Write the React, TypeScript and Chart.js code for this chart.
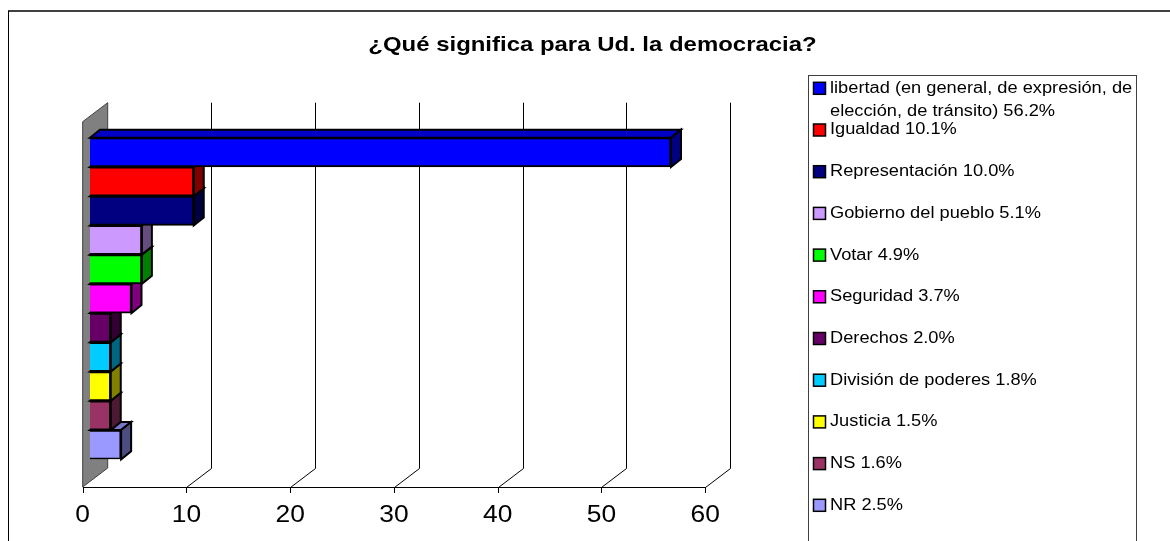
import React, { useEffect, useRef } from "react";
import { Chart, registerables } from "chart.js";

Chart.register(...registerables);

const titleText = "¿Qué significa para Ud. la democracia?";
const categories = [
  "libertad (en general, de expresión, de elección, de tránsito)",
  "Igualdad",
  "Representación",
  "Gobierno del pueblo",
  "Votar",
  "Seguridad",
  "Derechos",
  "División de poderes",
  "Justicia",
  "NS",
  "NR",
];
const percentLabels = ["56.2", "10.1", "10.0", "5.1", "4.9", "3.7", "2.0", "1.8", "1.5", "1.6", "2.5"];
const barValues = [56, 10, 10, 5, 5, 4, 2, 2, 2, 2, 3];
const xTicks = [0, 10, 20, 30, 40, 50, 60];
const colors = [
  "#0000FF",
  "#FF0000",
  "#000080",
  "#CC99FF",
  "#00FF00",
  "#FF00FF",
  "#660066",
  "#00CCFF",
  "#FFFF00",
  "#993366",
  "#9999FF",
];

const FONT = '"Liberation Sans", Arial, sans-serif';
const STRETCH = 1.14;

function shade(hex: string, f: number): string {
  const n = parseInt(hex.slice(1), 16);
  const r = Math.round(((n >> 16) & 255) * f);
  const g = Math.round(((n >> 8) & 255) * f);
  const b = Math.round((n & 255) * f);
  return `rgb(${r},${g},${b})`;
}

function stretchedText(ctx: CanvasRenderingContext2D, text: string, x: number, y: number, sx: number) {
  ctx.save();
  ctx.translate(x, y);
  ctx.scale(sx, 1);
  ctx.fillText(text, 0, 0);
  ctx.restore();
}

function wrapText(ctx: CanvasRenderingContext2D, text: string, maxW: number, sx: number): string[] {
  const words = text.split(" ");
  const lines: string[] = [];
  let cur = "";
  for (const w of words) {
    const test = cur ? cur + " " + w : w;
    if (ctx.measureText(test).width * sx > maxW && cur) {
      lines.push(cur);
      cur = w;
    } else cur = test;
  }
  if (cur) lines.push(cur);
  return lines;
}

const scenePlugin = {
  id: "scene3d",
  beforeDatasetsDraw(chart: any) {
    const ctx: CanvasRenderingContext2D = chart.ctx;
    const xs = chart.scales.x;
    const frontX = (v: number) => xs.getPixelForValue(v) - 7.3;
    const DX = 25;
    const DY = 19;
    const floorY = 487;
    const wallTop = 121.7;
    ctx.save();
    ctx.lineWidth = 1;
    ctx.strokeStyle = "#000";
    xTicks.forEach((v) => {
      if (v === 0) return;
      const fx = Math.round(frontX(v)) + 0.5;
      const bx = fx + DX;
      ctx.beginPath();
      ctx.moveTo(fx, floorY + 0.5);
      ctx.lineTo(bx, floorY - DY + 0.5);
      ctx.lineTo(bx, wallTop - DY);
      ctx.stroke();
    });
    const f0 = frontX(0);
    ctx.beginPath();
    ctx.moveTo(f0, wallTop);
    ctx.lineTo(f0 + DX, wallTop - DY);
    ctx.lineTo(f0 + DX, floorY - DY);
    ctx.lineTo(f0, floorY);
    ctx.closePath();
    ctx.fillStyle = "#808080";
    ctx.fill();
    ctx.strokeStyle = "#404040";
    ctx.stroke();
    ctx.strokeStyle = "#000";
    ctx.beginPath();
    ctx.moveTo(Math.round(f0) + 0.5, floorY + 0.5);
    ctx.lineTo(Math.round(frontX(60)) + 0.5, floorY + 0.5);
    xTicks.forEach((v) => {
      const fx = Math.round(frontX(v)) + 0.5;
      ctx.moveTo(fx, floorY);
      ctx.lineTo(fx, floorY + 6);
    });
    ctx.stroke();
    ctx.fillStyle = "#000";
    ctx.font = `24px ${FONT}`;
    ctx.textAlign = "center";
    ctx.textBaseline = "middle";
    xTicks.forEach((v) => {
      stretchedText(ctx, String(v), frontX(v), 515, 1.1);
    });
    const meta = chart.getDatasetMeta(0);
    const bdx = 10;
    const bdy = 8;
    ctx.lineWidth = 2;
    ctx.lineJoin = "miter";
    ctx.strokeStyle = "#000";
    for (let i = meta.data.length - 1; i >= 0; i--) {
      const el = meta.data[i];
      const p = el.getProps(["x", "y", "base", "height"], true);
      const top = p.y - p.height / 2;
      const bot = p.y + p.height / 2;
      const s = p.base;
      const e = p.x;
      ctx.beginPath();
      ctx.moveTo(s, top);
      ctx.lineTo(s + bdx, top - bdy);
      ctx.lineTo(e + bdx, top - bdy);
      ctx.lineTo(e, top);
      ctx.closePath();
      ctx.fillStyle = shade(colors[i], 0.78);
      ctx.fill();
      ctx.stroke();
      ctx.beginPath();
      ctx.moveTo(e, top);
      ctx.lineTo(e + bdx, top - bdy);
      ctx.lineTo(e + bdx, bot - bdy);
      ctx.lineTo(e, bot);
      ctx.closePath();
      ctx.fillStyle = shade(colors[i], 0.5);
      ctx.fill();
      ctx.stroke();
    }
    ctx.restore();
  },
  afterDraw(chart: any) {
    const ctx: CanvasRenderingContext2D = chart.ctx;
    ctx.save();
    ctx.strokeStyle = "#404040";
    ctx.lineWidth = 2;
    ctx.beginPath();
    ctx.moveTo(8, 11);
    ctx.lineTo(1170, 11);
    ctx.stroke();
    ctx.strokeStyle = "#000";
    ctx.lineWidth = 1;
    ctx.beginPath();
    ctx.moveTo(8.5, 11);
    ctx.lineTo(8.5, 541);
    ctx.stroke();
    ctx.fillStyle = "#000";
    ctx.font = `bold 21px ${FONT}`;
    ctx.textAlign = "center";
    ctx.textBaseline = "middle";
    stretchedText(ctx, titleText, 592.5, 45, STRETCH);
    ctx.strokeStyle = "#404040";
    ctx.lineWidth = 1;
    ctx.strokeRect(808.5, 75.5, 328, 500);
    ctx.font = `16px ${FONT}`;
    ctx.textAlign = "left";
    ctx.textBaseline = "middle";
    const lineH = 23.4;
    const step = 41.7;
    categories.forEach((c, i) => {
      const y = 88.3 + i * step;
      ctx.fillStyle = colors[i];
      ctx.fillRect(813.5, y - 6, 12, 12);
      ctx.strokeStyle = "#000";
      ctx.lineWidth = 1.5;
      ctx.strokeRect(813.5, y - 6, 12, 12);
      ctx.fillStyle = "#000";
      const lines = wrapText(ctx, `${c} ${percentLabels[i]}%`, 306, STRETCH);
      lines.forEach((ln, k) => stretchedText(ctx, ln, 830, y + k * lineH, STRETCH));
    });
    ctx.restore();
  },
};

export default function App() {
  const ref = useRef<HTMLCanvasElement | null>(null);
  useEffect(() => {
    document.body.style.margin = "0";
    const canvas = ref.current!;
    const chart = new Chart(canvas, {
      type: "bar",
      data: {
        labels: categories,
        datasets: [
          {
            data: barValues,
            backgroundColor: colors,
            borderColor: "#000",
            borderWidth: 2,
            categoryPercentage: 1,
            barPercentage: 1,
          },
        ],
      },
      options: {
        indexAxis: "y",
        animation: false,
        responsive: false,
        maintainAspectRatio: false,
        layout: { padding: { left: 90, right: 1170 - 712.5, top: 137.7, bottom: 541 - 459.3 } },
        scales: {
          x: { type: "linear", min: 0, max: 60, display: false },
          y: { display: false, offset: true },
        },
        plugins: { legend: { display: false }, tooltip: { enabled: false }, title: { display: false } },
      },
      plugins: [scenePlugin],
    } as any);
    return () => chart.destroy();
  }, []);
  return (
    <div style={{ width: 1170, height: 541, background: "#fff" }}>
      <canvas ref={ref} width={1170} height={541} style={{ display: "block" }} />
    </div>
  );
}
